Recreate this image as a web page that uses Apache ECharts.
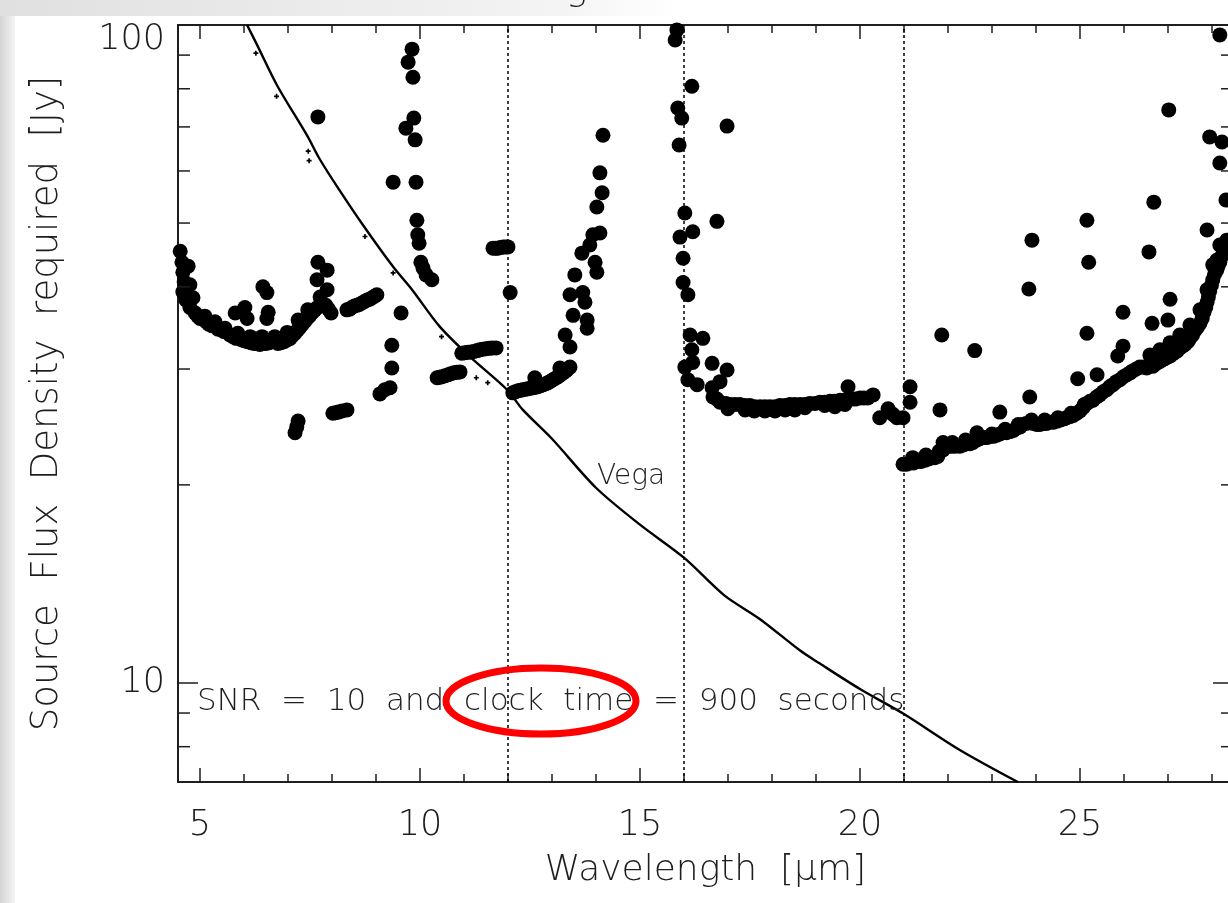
<!DOCTYPE html>
<html>
<head>
<meta charset="utf-8">
<script src="https://cdn.jsdelivr.net/npm/echarts/dist/echarts.min.js"></script>
<style>
html,body{margin:0;padding:0;background:#ffffff;}
#chart{width:1228px;height:903px;}
</style>
</head>
<body>
<div id="chart"></div>
<script>
// ---------------- axis ranges & ticks ----------------
const X_MIN = 4.5, X_MAX = 28.48;
const Y_MIN = 7.07, Y_MAX = 100;
const xTickLabels = [5, 10, 15, 20, 25];
const yTickLabels = [10, 100];
const yMinorTicks = [8, 9, 20, 30, 40, 50, 60, 70, 80, 90];
const dottedLines = [12, 16, 21];

// ---------------- data: required source flux density [Jy] vs wavelength [um] ----------------
const seg5to12 = [
  [4.55,45.3],[4.59,43.6],[4.61,42.1],[4.64,40.7],[4.61,39.3],[4.68,38.2],[4.77,37.2],[4.89,36.5],[5.00,35.8],[5.14,35.4],
  [5.27,34.9],[5.41,34.5],[5.55,34.2],[5.68,33.8],[5.82,33.4],[5.95,33.2],[6.09,33.0],[6.23,32.8],[6.36,32.7],[6.50,32.8],
  [6.64,33.0],[6.77,32.8],[6.91,33.0],[7.05,33.4],[7.16,34.0],[7.27,34.7],[7.39,35.5],[7.50,36.2],[7.61,36.9],[7.73,37.4],
  [7.86,37.5],[7.98,36.5],
  [4.95,36.1],[5.20,35.1],[5.48,34.4],[5.75,33.6],[6.02,33.1],[6.16,32.9],[6.30,32.8],[6.43,32.8],[6.57,32.9],[6.84,32.9],
  [6.98,33.2],[7.10,33.7],[7.22,34.4],[7.33,35.1],[7.45,35.9],[7.56,36.6],[7.67,37.2],[7.80,37.5],[7.92,37.0],
  [4.73,43.0],[4.77,40.3],[4.84,38.5],[5.11,36.1],[5.34,35.4],[5.57,34.6],[5.86,34.0],[6.14,33.6],[6.41,33.6],[6.70,33.6],
  [6.98,34.1],[7.23,35.6],[7.45,36.9],
  [6.43,40.0],[6.52,39.2],[6.02,37.2],[5.80,36.5],[6.07,35.8],[6.55,36.6],[6.52,35.8],[7.68,43.6],[7.89,42.4],[7.66,41.0],
  [7.89,39.6],[7.73,38.6],[7.68,72.5],
  [8.34,36.9],[8.40,37.0],[8.45,37.2],[8.51,37.4],[8.57,37.5],[8.62,37.6],[8.68,37.8],[8.74,38.0],[8.80,38.2],[8.86,38.3],[8.91,38.5],[8.97,38.7],[9.02,38.9],[9.57,36.5],
  [9.82,91.9],[9.73,87.8],[9.84,83.3],[9.86,72.2],[9.68,69.7],[9.89,66.9],[9.39,57.7],[9.91,57.7],[9.93,50.5],[9.95,48.0],
  [9.98,46.6],[10.02,43.6],[10.07,42.7],[10.14,41.7],[10.27,41.0],
  [7.23,25.0],[7.20,24.5],[7.16,24.0],[8.02,25.7],[8.08,25.75],[8.14,25.8],[8.23,25.9],[8.34,26.0],[9.09,27.5],[9.20,27.9],[9.32,28.1],
  [9.36,30.1],[9.36,32.6],
  [10.39,29.1],[10.45,29.15],[10.50,29.2],[10.57,29.3],[10.64,29.4],[10.70,29.5],[10.77,29.6],[10.84,29.65],[10.91,29.7],
  [10.95,31.7],[11.02,31.75],[11.09,31.8],[11.16,31.85],[11.23,31.9],[11.30,32.0],[11.36,32.1],[11.43,32.15],[11.50,32.2],[11.57,32.25],[11.64,32.3],[11.73,32.3],
  [11.66,45.8],[11.72,45.8],[11.77,45.8],[11.83,45.9],[11.89,46.0],[11.95,46.0],[12.00,46.0],[12.05,39.2]
];
const seg12to16 = [
  [12.11,27.6],[12.17,27.7],[12.23,27.8],[12.29,27.85],[12.34,27.9],[12.40,27.95],[12.45,28.0],[12.51,28.05],[12.57,28.1],[12.62,28.15],
  [12.68,28.2],[12.74,28.3],[12.80,28.4],[12.86,28.5],[12.91,28.6],[12.97,28.75],[13.02,28.9],[13.08,29.05],[13.14,29.2],[13.20,29.4],
  [13.25,29.6],[13.30,29.75],[13.34,29.9],[13.41,30.2],[12.61,29.1],[13.18,30.1],
  [13.30,33.8],[13.41,32.4],[13.48,36.2],[13.41,38.9],[13.52,41.7],[13.70,39.2],[13.75,37.9],[13.80,35.6],[13.80,34.6],[13.68,45.0],
  [13.86,46.3],[13.93,48.0],[14.09,48.3],[13.98,43.6],[14.02,42.1],[14.02,52.9],[14.14,55.6],[14.09,59.6],[14.16,68.0],
  [15.84,98.3],[15.80,94.9],[16.18,80.7],[15.86,74.8],[15.95,72.2],[15.89,65.7],[16.02,51.8],[16.20,48.5],[15.91,47.6],[15.98,44.2],
  [15.98,40.6],[16.09,38.9],[16.98,70.2],[16.75,50.3]
];
const seg16to21 = [
  [16.14,33.8],[16.43,33.4],[16.18,32.1],[16.02,30.2],[16.20,30.7],[16.64,30.6],[16.98,29.9],[16.09,28.9],[16.30,28.4],[16.82,28.7],[16.64,28.1],
  [16.66,27.2],[16.82,26.7],[17.05,26.5],[17.27,26.5],[17.50,26.4],[17.73,26.3],[17.95,26.3],[18.18,26.4],[18.41,26.5],[18.64,26.5],
  [18.86,26.6],[19.09,26.7],[19.32,26.8],[19.55,26.9],[19.77,27.0],[20.00,27.1],[20.18,27.1],[20.30,27.4],
  [16.75,27.0],[16.95,26.6],[17.16,26.5],[17.39,26.4],[17.61,26.3],[17.84,26.3],[18.07,26.3],[18.30,26.4],[18.52,26.5],[18.75,26.5],
  [18.98,26.6],[19.20,26.7],[19.43,26.8],[19.66,26.9],[19.89,27.0],[20.09,27.1],
  [17.39,26.0],[17.84,25.9],[18.30,26.0],[18.75,26.2],[19.20,26.4],[19.66,26.5],[17.00,26.1],[17.60,25.9],[18.07,25.9],[18.52,26.0],[19.43,26.3],
  [19.73,28.2],[20.45,25.3],[20.64,26.1],[20.75,25.6],[20.84,25.3],[20.98,25.3],[21.14,28.2],[21.14,26.7]
];
const seg21to28 = [
  [20.98,21.5],[21.14,21.6],[21.30,21.7],[21.48,21.8],[21.64,22.0],[21.77,22.1],[21.89,22.6],[22.00,22.9],[22.16,22.9],[22.27,22.9],
  [22.43,23.1],[22.57,23.2],[22.66,23.4],[22.80,23.6],[22.95,23.7],[23.11,23.8],[23.25,24.0],[23.41,24.1],[23.57,24.4],[23.70,24.7],
  [23.86,24.9],[24.02,24.7],[24.16,24.8],[24.32,24.9],[24.48,25.0],[24.64,25.2],[24.77,25.4],[24.93,25.7],[25.07,26.2],[25.16,26.6],
  [25.30,26.9],[25.45,27.4],[25.61,27.9],[25.75,28.4],[25.91,28.9],[26.07,29.4],[26.20,29.8],[26.36,30.2],[26.52,30.1],[26.66,30.3],
  [26.82,30.8],[26.93,31.1],[27.05,31.4],[27.16,31.8],[27.27,32.3],[27.39,32.7],[27.50,33.4],[27.61,34.3],[27.73,35.2],[27.82,36.6],
  [27.89,37.9],[27.95,39.4],[28.02,41.0],[28.11,42.4],[28.18,43.6],[28.27,45.5],[28.34,47.1],
  [21.06,21.5],[21.22,21.6],[21.39,21.7],[21.56,21.9],[21.70,22.0],[22.08,22.9],[22.35,23.0],[22.50,23.1],[22.72,23.5],[22.88,23.6],
  [23.03,23.7],[23.18,23.9],[23.33,24.0],[23.49,24.2],[23.64,24.5],[23.78,24.8],[23.94,24.8],[24.09,24.7],[24.24,24.8],[24.40,24.9],
  [24.56,25.1],[24.70,25.3],[24.85,25.5],[25.00,25.9],
  [21.20,22.0],[21.50,22.2],[21.80,22.5],[22.10,23.2],[22.40,23.4],[22.70,23.7],[23.00,23.9],[23.30,24.3],[23.60,24.7],[23.90,25.1],
  [24.20,25.1],[24.50,25.3],[24.80,25.7],[25.10,26.5],
  [25.23,26.8],[25.38,27.2],[25.53,27.7],[25.68,28.2],[25.83,28.7],[25.99,29.2],[26.14,29.6],[26.28,30.0],[26.44,30.2],[26.74,30.6],
  [26.88,31.0],[27.00,31.3],[27.10,31.6],[27.22,32.0],[27.33,32.5],[27.45,33.0],[27.56,33.8],[27.67,34.7],[27.78,35.8],[27.86,37.2],
  [27.92,38.6],[27.99,40.2],[28.06,41.8],[28.14,43.0],[28.22,44.5],[28.30,46.3],
  [21.89,23.2],[22.66,24.0],
  [26.59,31.5],[26.82,32.1],[27.05,32.9],[27.27,33.8],[27.50,35.0],[27.73,36.9],[27.89,39.6],[28.02,43.2],[28.18,46.3],
  [28.18,96.6],[27.02,74.3],[27.95,67.6],[28.23,66.4],[28.18,61.7],[28.32,54.2],[26.68,53.8],[25.16,50.5],[23.91,47.1],[26.57,45.2],
  [27.89,48.8],[25.20,43.6],[23.84,39.7],[25.98,36.6],[27.05,38.3],[26.64,35.2],[27.00,35.6],[25.16,34.0],[21.86,33.8],[22.61,32.0],
  [25.98,32.5],[25.86,31.4],[25.39,29.4],[24.95,29.0],[23.86,27.2],[21.82,26.0],[23.18,25.8],[28.11,43.9]
];

// Vega spectrum (flux density of Vega)
const vega = [
  [6.07,100],[6.30,93.2],[6.75,81.0],[7.43,68.0],[7.73,62.4],[8.14,56.5],[8.70,49.7],[9.39,42.9],[9.82,39.6],[10.45,34.8],
  [11.14,31.3],[11.98,27.9],[12.34,26.0],[13.00,23.5],[14.00,19.8],[15.00,17.4],[16.00,15.5],[16.91,13.6],[17.73,12.5],[18.64,11.2],
  [19.09,10.7],[20.00,9.79],[21.00,8.97],[22.27,7.91],[23.59,7.07]
];
const vegaDips = [
  [6.27,90.6],[6.74,77.9],[7.46,64.3],[7.48,62.2],[8.75,47.7],[9.39,42.0],[10.49,33.6],[11.28,29.1],[11.54,28.6]
];

// ---------------- chart ----------------
const FONT = 'DejaVu Sans';
const INK = '#1e1e1e';
const WEIGHT = 300;

function xAxisDef(pos, step, tickLen, showLabels, extra) {
  return Object.assign({
    type: 'value', position: pos, min: X_MIN, max: X_MAX, minInterval: step, maxInterval: step,
    axisLine: { show: true, onZero: false, lineStyle: { color: INK, width: 2 } },
    axisTick: { show: true, inside: true, length: tickLen, lineStyle: { color: INK, width: 1.5 } },
    axisLabel: {
      show: showLabels, showMinLabel: false, showMaxLabel: false, margin: 26,
      fontFamily: FONT, fontSize: 35, fontWeight: WEIGHT, color: INK,
      formatter: v => (Math.abs(v - Math.round(v)) < 1e-6 && xTickLabels.includes(Math.round(v))) ? String(Math.round(v)) : ''
    },
    splitLine: { show: false }, minorTick: { show: false }, minorSplitLine: { show: false }
  }, extra || {});
}

function yAxisDef(pos, showLabels, extra) {
  return Object.assign({
    type: 'log', logBase: 10, position: pos, min: Y_MIN, max: Y_MAX,
    axisLine: { show: true, onZero: false, lineStyle: { color: INK, width: 2 } },
    axisTick: { show: true, inside: true, length: 20, lineStyle: { color: INK, width: 1.5 } },
    axisLabel: {
      show: showLabels, showMinLabel: false, showMaxLabel: true, margin: 13,
      fontFamily: FONT, fontSize: 35, fontWeight: WEIGHT, color: INK,
      formatter: v => {
        const r = Math.round(v);
        if (!yTickLabels.includes(r)) return '';
        return r === 100 ? '{top|100}' : String(r);
      },
      rich: { top: { fontFamily: FONT, fontSize: 35, fontWeight: WEIGHT, color: INK, padding: [30, 0, 0, 0] } }
    },
    splitLine: { show: false }, minorTick: { show: false }, minorSplitLine: { show: false }
  }, extra || {});
}

const chart = echarts.init(document.getElementById('chart'), null, { renderer: 'canvas', width: 1228, height: 903 });

const option = {
  animation: false,
  backgroundColor: '#ffffff',
  grid: { left: 178, top: 25, right: -5, bottom: 121, containLabel: false, outerBoundsMode: 'none' },
  xAxis: [
    xAxisDef('bottom', 5, 14, true, {
      name: 'Wavelength  [\u03bcm]', nameLocation: 'middle', nameGap: 71, nameMoveOverlap: false,
      nameTextStyle: { fontFamily: FONT, fontSize: 36, fontWeight: WEIGHT, color: INK }
    }),
    xAxisDef('bottom', 1, 8, false),
    xAxisDef('top', 5, 14, false),
    xAxisDef('top', 1, 8, false)
  ],
  yAxis: [
    yAxisDef('left', true, {
      name: 'Source  Flux  Density  required  [Jy]', nameLocation: 'middle', nameGap: 112, nameRotate: 90,
      nameMoveOverlap: false,
      nameTextStyle: { fontFamily: FONT, fontSize: 37, fontWeight: WEIGHT, color: INK }
    }),
    yAxisDef('right', false)
  ],
  series: [
    {
      name: 'Required flux', type: 'scatter', xAxisIndex: 0, yAxisIndex: 0,
      data: [].concat(seg5to12, seg12to16, seg16to21, seg21to28),
      symbol: 'circle', symbolSize: 15,
      itemStyle: { color: '#000000', opacity: 1, borderWidth: 0 },
      emphasis: { disabled: true },
      markLine: {
        silent: true, symbol: ['none', 'none'], animation: false,
        label: { show: false },
        lineStyle: { color: '#000000', width: 1.5, type: [3, 3] },
        emphasis: { disabled: true },
        data: dottedLines.map(v => ({ xAxis: v }))
      },
      z: 3
    },
    {
      name: 'Vega', type: 'line', xAxisIndex: 0, yAxisIndex: 0, data: vega,
      symbol: 'none', smooth: 0.3,
      lineStyle: { color: '#000000', width: 2.4 },
      emphasis: { disabled: true }, z: 4
    },
    {
      name: 'Vega dips', type: 'scatter', xAxisIndex: 0, yAxisIndex: 0, data: vegaDips,
      symbol: 'path://M-1,-3H1V-1H3V1H1V3H-1V1H-3V-1H-1Z', symbolSize: 5,
      itemStyle: { color: '#000000', opacity: 1 }, emphasis: { disabled: true }, z: 4
    },
    {
      name: 'y minor ticks', type: 'custom', xAxisIndex: 0, yAxisIndex: 0,
      data: yMinorTicks.map(v => [X_MIN, v]),
      silent: true, clip: false,
      renderItem: (params, api) => {
        const v = api.value(1);
        const p = api.coord([X_MIN, v]);
        const q = api.coord([X_MAX, v]);
        return {
          type: 'group', children: [
            { type: 'line', shape: { x1: p[0], y1: p[1], x2: p[0] + 12, y2: p[1] }, style: { stroke: INK, lineWidth: 1.5 } },
            { type: 'line', shape: { x1: q[0] - 12, y1: q[1], x2: q[0], y2: q[1] }, style: { stroke: INK, lineWidth: 1.5 } }
          ]
        };
      },
      z: 5
    }
  ],
  graphic: {
    elements: [
      { type: 'rect', z: -100, silent: true, shape: { x: 0, y: 0, width: 15, height: 903 },
        style: { fill: new echarts.graphic.LinearGradient(0, 0, 1, 0, [{ offset: 0, color: '#d4d4d4' }, { offset: 1, color: '#f4f4f4' }]) } },
      { type: 'rect', z: -100, silent: true, shape: { x: 0, y: 0, width: 680, height: 16 },
        style: { fill: new echarts.graphic.LinearGradient(0, 0, 1, 0, [{ offset: 0, color: '#e0e0e0' }, { offset: 0.8, color: '#f3f3f3' }, { offset: 1, color: '#ffffff' }]) } },
      { type: 'text', z: 50, silent: true, x: 566, y: -9,
        style: { text: 'g', fontFamily: FONT, fontSize: 36, fontWeight: WEIGHT, fill: INK, verticalAlign: 'middle' } },
      { type: 'text', z: 50, silent: true, x: 597, y: 477,
        style: { text: 'Vega', fontFamily: FONT, fontSize: 28, fontWeight: WEIGHT, fill: INK, verticalAlign: 'middle' } },
      { type: 'text', z: 50, silent: true, x: 197, y: 702,
        style: { text: 'SNR  =  10  and  clock  time  =  900  seconds', fontFamily: FONT, fontSize: 31, fontWeight: WEIGHT, fill: INK, verticalAlign: 'middle' } },
      { type: 'ellipse', z: 60, silent: true, shape: { cx: 541, cy: 701, rx: 95, ry: 33 },
        style: { fill: 'none', stroke: '#ff0000', lineWidth: 7 } }
    ]
  }
};

chart.setOption(option);
</script>
</body>
</html>
